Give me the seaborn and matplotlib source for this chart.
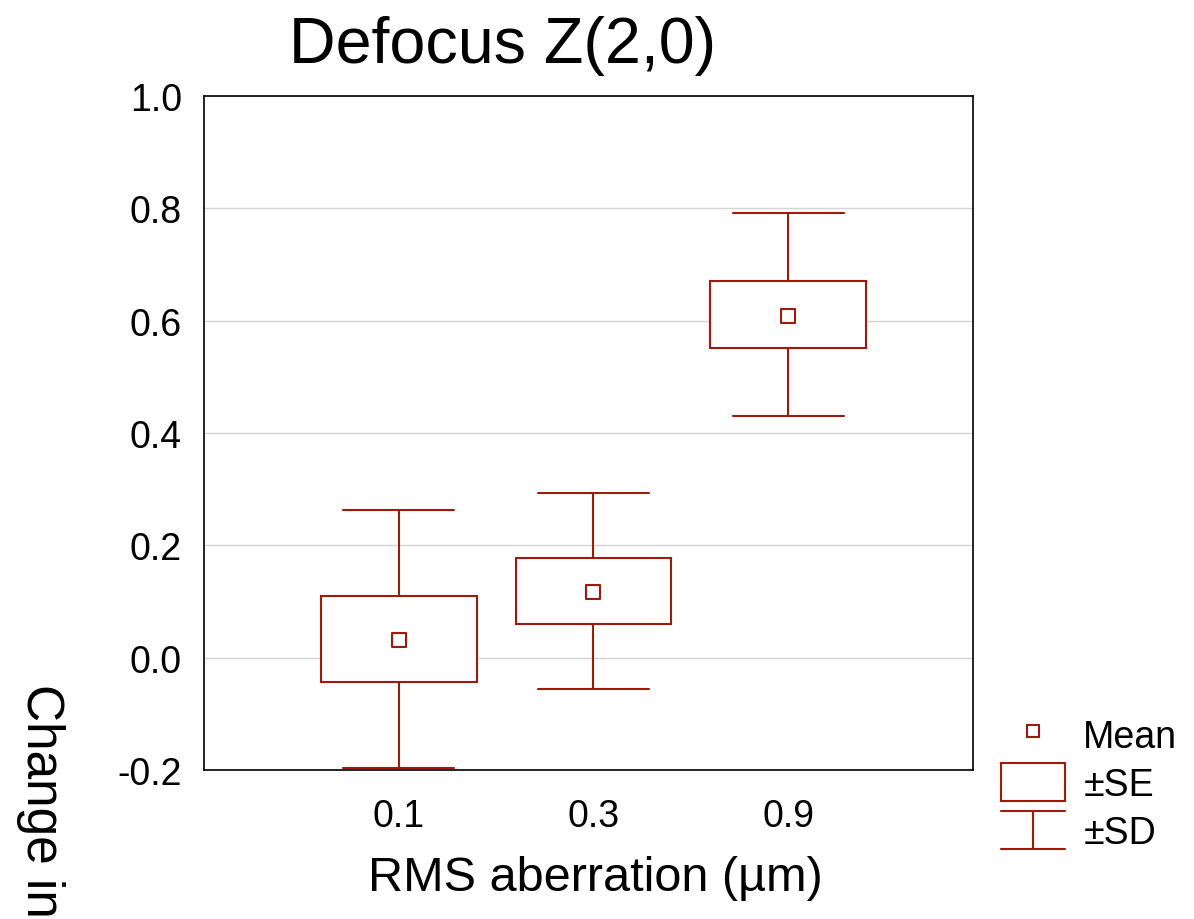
import matplotlib
matplotlib.use("Agg")
import matplotlib.pyplot as plt
from matplotlib.legend_handler import HandlerBase
from matplotlib.lines import Line2D
from matplotlib.patches import Patch
import numpy as np
import pandas as pd
import seaborn as sns

# Data
categories = ["0.1", "0.3", "0.9"]
means = [0.032, 0.117, 0.608]
se_low = [-0.043, 0.060, 0.551]
se_high = [0.110, 0.177, 0.671]
sd_low = [-0.196, -0.055, 0.430]
sd_high = [0.263, 0.293, 0.791]

red = "#9e1a0c"

sns.set_theme(style="whitegrid")
plt.rcParams["font.family"] = ["Liberation Sans", "DejaVu Sans"]
plt.rcParams["axes.unicode_minus"] = False
plt.rcParams["text.color"] = "black"

fig = plt.figure(figsize=(11.94, 9.2), dpi=100)
ax = fig.add_axes([0.1709, 0.1620, 0.6440, 0.7326])
ax.set_facecolor("white")

# Boxes (+-SE) with whiskers (+-SD)
stats = []
for i in range(len(categories)):
    stats.append({
        "med": means[i], "q1": se_low[i], "q3": se_high[i],
        "whislo": sd_low[i], "whishi": sd_high[i], "fliers": [],
    })
pos = np.arange(len(categories))
ax.bxp(stats, positions=pos, widths=0.8, capwidths=0.57, patch_artist=True,
       showfliers=False, manage_ticks=False,
       boxprops=dict(facecolor="white", edgecolor=red, linewidth=1.5),
       whiskerprops=dict(color=red, linewidth=1.5),
       capprops=dict(color=red, linewidth=1.5),
       medianprops=dict(linewidth=0), zorder=3)

# Means
df = pd.DataFrame({"x": pos, "mean": means})
sns.scatterplot(data=df, x="x", y="mean", ax=ax, marker="s", s=90,
                facecolor="white", edgecolor=red, linewidth=1.5, zorder=4,
                legend=False)

ax.set_xlim(-1.0, 2.95)
ax.set_ylim(-0.2, 1.0)
ax.set_yticks(np.arange(-0.2, 1.01, 0.2))
ax.set_yticklabels([f"{v:.1f}" for v in np.arange(-0.2, 1.01, 0.2)])
ax.set_xticks(pos)
ax.set_xticklabels(categories)
ax.grid(axis="x", visible=False)
ax.grid(axis="y", color="#d4d4d4", linewidth=1)
ax.tick_params(axis="both", length=0, labelsize=27, colors="black")
ax.tick_params(axis="x", pad=20)
ax.tick_params(axis="y", pad=16)
for s in ax.spines.values():
    s.set_color("black")
    s.set_linewidth(1.2)

ax.set_xlabel("RMS aberration (µm)", fontsize=35, labelpad=15, color="black",
              x=0.509)
ax.set_ylabel("")
fig.text(0.4205, 0.9315, "Defocus Z(2,0)", fontsize=46.5, ha="center",
         va="baseline", color="black")
fig.text(0.034, 1 - 684 / 920, "Change in defocus (µm)", fontsize=37,
         rotation=270, ha="center", va="top", color="black")


class HandlerSD(HandlerBase):
    def create_artists(self, legend, orig_handle, xdescent, ydescent,
                       width, height, fontsize, trans):
        x0, x1 = -xdescent, -xdescent + width
        xm = (x0 + x1) / 2
        y0, y1 = -ydescent, -ydescent + height
        lines = [Line2D([x0, x1], [y0, y0]), Line2D([x0, x1], [y1, y1]),
                 Line2D([xm, xm], [y0, y1])]
        for ln in lines:
            ln.set_color(red)
            ln.set_linewidth(1.5)
            ln.set_transform(trans)
        return lines


class SDHandle:
    pass


handles = [
    Line2D([], [], linestyle="none", marker="s", markersize=9,
           markerfacecolor="white", markeredgecolor=red, markeredgewidth=1.5),
    Patch(facecolor="white", edgecolor=red, linewidth=1.5),
    SDHandle(),
]
leg = fig.legend(handles, ["Mean", "±SE", "±SD"], loc="upper left",
                 bbox_to_anchor=(0.8225, 0.2425), frameon=False, fontsize=27,
                 handlelength=1.7, handleheight=1.2, labelspacing=0.22,
                 handletextpad=0.5, borderpad=0,
                 handler_map={SDHandle: HandlerSD()})
for t in leg.get_texts():
    t.set_color("black")

fig.savefig("out.png", dpi=100)
